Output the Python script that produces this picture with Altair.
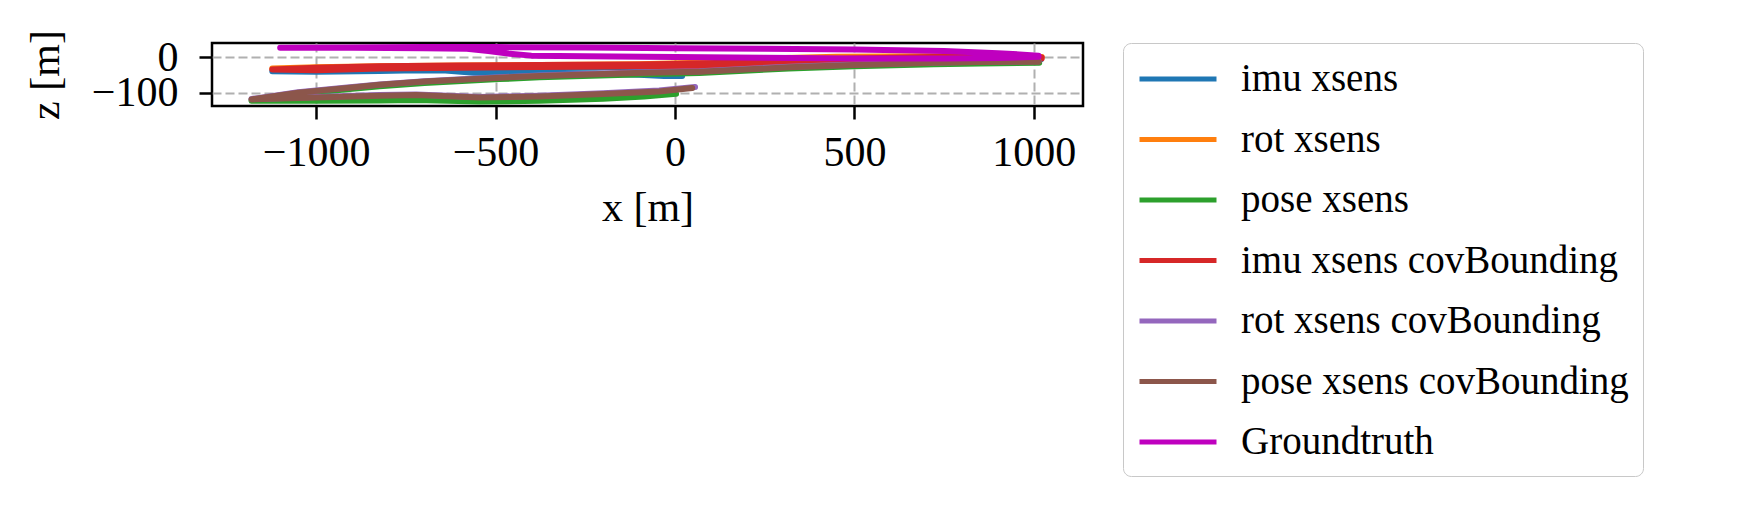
import altair as alt
import pandas as pd

series_names = ["imu xsens", "rot xsens", "pose xsens", "imu xsens covBounding",
                "rot xsens covBounding", "pose xsens covBounding", "Groundtruth"]
series_colors = ["#1f77b4", "#ff7f0e", "#2ca02c", "#d62728", "#9467bd", "#8c564b", "#bf00bf"]

x_ticks = [-1000, -500, 0, 500, 1000]
z_ticks = [0, -100]

imu_x = [1020, 800, 500, 250, 50, -150, -400, -650, -900, -1122, -1000, -823, -720, -640, -560, -480, -400, -250, -100, -30, 20]
imu_z = [-6, -9, -15, -20, -26, -29, -31, -33, -36, -40, -41, -39, -37, -38, -44, -45, -43, -46, -50, -53, -53]

rot_x = [1022, 900, 700, 450, 250, 68, -100, -378, -600, -823, -1000, -1122]
rot_z = [0, 1, 2, 1, -4, -16, -20, -22, -24, -26, -29, -32]

pose_x = [1015, 850, 721, 500, 318, 68, -86, -378, -489, -698, -823, -906, -1050, -1180,
          -1000, -823, -721, -545, -378, -200, -86, 3]
pose_z = [-16, -18, -20, -26, -32, -45, -48, -57, -62, -73, -82, -90, -104, -123,
          -123, -122, -121, -125, -123, -117, -111, -103]

imucov_x = [1022, 900, 721, 500, 318, 68, -100, -378, -600, -823, -1000, -1122,
            -1000, -823, -600, -378, -100, 68, 318, 500, 721, 900, 1022]
imucov_z = [-1, 1, 0, -4, -10, -18, -21, -22, -24, -26, -30, -35,
            -37, -32, -30, -28, -26, -25, -19, -13, -9, -6, -4]

rotcov_x = [1013, 850, 721, 500, 318, 68, -86, -378, -489, -698, -823, -906, -1050, -1180,
            -1000, -823, -721, -545, -378, -200, -44, 56]
rotcov_z = [-12, -13, -15, -21, -27, -40, -43, -52, -57, -68, -77, -85, -99, -118,
            -112, -107, -105, -112, -109, -102, -94, -84]

posecov_x = [1013, 850, 721, 500, 318, 68, -86, -378, -489, -698, -823, -906, -1050, -1180,
             -1000, -823, -721, -545, -378, -200, -44, 48]
posecov_z = [-13, -14, -16, -22, -29, -41, -44, -53, -58, -69, -78, -86, -100, -119,
             -114, -109, -107, -114, -111, -104, -97, -87]

gt_x = [1013, 900, 750, 500, 250, 0, -250, -400, -460, -520, -580, -700, -900, -1100,
        -900, -700, -500, -250, 0, 250, 500, 750, 900, 1013]
gt_z = [1, -3, -4, -4, -2, 0, 2, 4, 9, 17, 23, 25, 26, 26,
        27, 28, 28, 27, 25, 23, 21, 17, 11, 4]

all_x = [imu_x, rot_x, pose_x, imucov_x, rotcov_x, posecov_x, gt_x]
all_z = [imu_z, rot_z, pose_z, imucov_z, rotcov_z, posecov_z, gt_z]

rows = []
for name, xs, zs in zip(series_names, all_x, all_z):
    for i, (xv, zv) in enumerate(zip(xs, zs)):
        rows.append({"series": name, "i": i, "x": xv, "z": zv})
df = pd.DataFrame(rows)

FONT = "Liberation Serif"

color_enc = alt.Color(
    "series:N",
    scale=alt.Scale(domain=series_names, range=series_colors),
    legend=alt.Legend(
        title=None, orient="none", legendX=911, legendY=0,
        symbolType="M-2,0H2", symbolSize=1482, symbolStrokeWidth=5, symbolOffset=19,
        labelFont=FONT, labelFontSize=39, labelColor="black", labelLimit=0,
        labelOffset=41, rowPadding=18.5, padding=14,
        strokeColor="#c8c8c8", fillColor="white", cornerRadius=8,
    ),
)

x_enc = alt.X("x:Q", scale=alt.Scale(domain=[-1290, 1137], nice=False, zero=False),
              axis=alt.Axis(values=x_ticks, format="d", title="x [m]", labelPadding=13, titlePadding=14))
y_enc = alt.Y("z:Q", scale=alt.Scale(domain=[-137.6, 39.5], nice=False, zero=False),
              axis=alt.Axis(values=z_ticks, format="d", title="z [m]", labelPadding=21, titlePadding=24))

layers = []
for name in series_names:
    layers.append(
        alt.Chart(df).transform_filter(alt.datum.series == name)
        .mark_line(strokeWidth=6, strokeCap="round", strokeJoin="round", clip=True)
        .encode(x=x_enc, y=y_enc, color=color_enc, order="i:Q")
    )

chart = alt.layer(*layers).properties(
    width=871, height=63,
    autosize=alt.AutoSizeParams(type="none"),
    padding={"left": 204, "top": 35, "right": 640, "bottom": 390},
).configure_view(
    stroke="black", strokeWidth=2.5
).configure_axis(
    labelFont=FONT, labelFontSize=42, labelColor="black",
    titleFont=FONT, titleFontSize=42, titleFontWeight="normal", titleColor="black",
    tickColor="black", tickWidth=2.5, tickSize=13, domain=False,
    grid=True, gridColor="#b0b0b0", gridDash=[9, 4], gridWidth=2,
)

chart.save("out.html", embed_options={"renderer": "svg", "actions": False})
